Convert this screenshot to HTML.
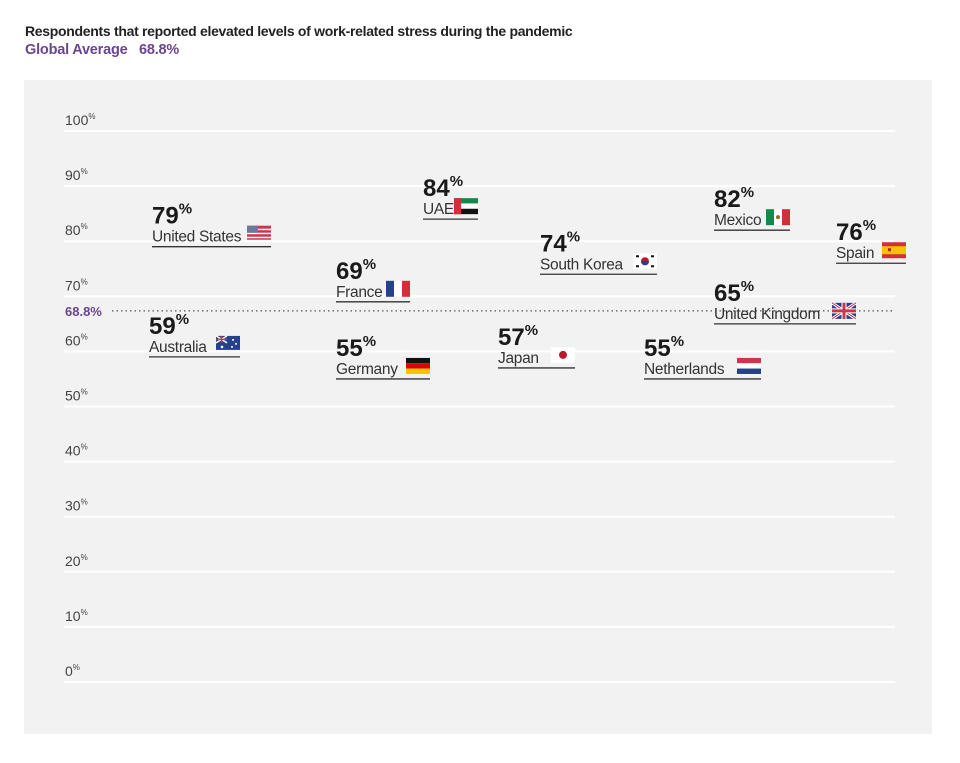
<!DOCTYPE html>
<html><head><meta charset="utf-8">
<style>
body{margin:0;background:#fff;font-family:"Liberation Sans",sans-serif;}
#wrap{position:relative;width:960px;height:763px;overflow:hidden;}
.t1{position:absolute;left:25px;top:23px;font-size:14px;color:#222;letter-spacing:-0.3px;font-weight:bold;white-space:nowrap}
.t2{position:absolute;left:25px;top:42px;font-size:14.5px;color:#6b4590;font-weight:bold;letter-spacing:-0.2px;white-space:nowrap}
svg{position:absolute;left:0;top:0}
</style></head><body>
<div id="wrap">
<div class="t1">Respondents that reported elevated levels of work-related stress during the pandemic</div>
<div class="t2">Global Average &nbsp; 68.8%</div>
<svg id="chart" width="960" height="763"></svg>
</div>
<script>
const countries=["United States","Australia","France","Germany","UAE","Japan","South Korea","Netherlands","Mexico","United Kingdom","Spain"];
const values=[79,59,69,55,84,57,74,55,82,65,76];
const ticks=[0,10,20,30,40,50,60,70,80,90,100];
const globalAverage=68.8;
// layout (not data)
const labelLeft=[152,149,336,336,423,498,540,644,714,714,836];
const labelWidth=[119,91,74,94,55,77,117,117,76,142,70];
const NS="http://www.w3.org/2000/svg";
const svg=document.getElementById('chart');
function y(v){return 682-v*5.51;}
function mk(tag,attrs,parent){const e=document.createElementNS(NS,tag);for(const k in attrs)e.setAttribute(k,attrs[k]);(parent||svg).appendChild(e);return e;}
const bg=mk('rect',{x:24,y:80,width:908,height:654,fill:'#f2f2f2'});


ticks.forEach(t=>{
  const l=mk('line',{x1:64,x2:895,y1:y(t),y2:y(t),stroke:'#fff','stroke-width':2});
  
  
  const tx=mk('text',{x:65,y:y(t)-6,'font-size':14,fill:'#444'});
  
  
  tx.innerHTML=t+'<tspan font-size="8" dy="-6">%</tspan>';
});
const ay=y(globalAverage)+8;
const al=mk('line',{x1:112,x2:895,y1:ay,y2:ay,stroke:'#555','stroke-width':1.2,'stroke-dasharray':'1.5 3'});


const at=mk('text',{x:65,y:ay+5,'font-size':13,'font-weight':'bold',fill:'#6b4590'});


at.textContent=globalAverage+'%';
function flag(name,g){
  const f={
   "United States":'<rect width="24" height="14" fill="#c8374a"/><rect y="3" width="24" height="1.5" fill="#fff"/><rect y="7" width="24" height="1.5" fill="#fff"/><rect y="11" width="24" height="1.5" fill="#fff"/><rect width="11" height="7" fill="#6a7a9c"/>',
   "Australia":'<rect width="24" height="14" fill="#24408e"/><path d="M0 0L11 7M11 0L0 7" stroke="#fff" stroke-width="1.5"/><path d="M5.5 0V7M0 3.5H11" stroke="#c8374a" stroke-width="1.5"/><circle cx="17" cy="4" r="1" fill="#fff"/><circle cx="20" cy="8" r="1" fill="#fff"/><circle cx="16" cy="11" r="1" fill="#fff"/><circle cx="6" cy="11" r="1.3" fill="#fff"/>',
   "France":'<rect width="8" height="16" fill="#24408e"/><rect x="8" width="8" height="16" fill="#fff"/><rect x="16" width="8" height="16" fill="#d22f3a"/>',
   "Germany":'<rect width="24" height="5.3" fill="#111"/><rect y="5.3" width="24" height="5.3" fill="#d00"/><rect y="10.6" width="24" height="5.4" fill="#f5c400"/>',
   "UAE":'<rect width="24" height="5.3" fill="#138a4b"/><rect y="5.3" width="24" height="5.3" fill="#fff"/><rect y="10.6" width="24" height="5.4" fill="#111"/><rect width="7" height="16" fill="#d22f3a"/>',
   "Japan":'<rect width="24" height="16" fill="#fff"/><circle cx="12" cy="8" r="4" fill="#b81c2c"/>',
   "South Korea":'<rect width="24" height="16" fill="#fff"/><circle cx="12" cy="8" r="4" fill="#b81c2c"/><path d="M8 8a4 4 0 0 0 8 0z" fill="#24408e"/><rect x="3" y="2" width="3" height="2" fill="#111"/><rect x="18" y="2" width="3" height="2" fill="#111"/><rect x="3" y="12" width="3" height="2" fill="#111"/><rect x="18" y="12" width="3" height="2" fill="#111"/>',
   "Netherlands":'<rect width="24" height="5.3" fill="#c8374a"/><rect y="5.3" width="24" height="5.3" fill="#fff"/><rect y="10.6" width="24" height="5.4" fill="#24408e"/>',
   "Mexico":'<rect width="8" height="16" fill="#138a4b"/><rect x="8" width="8" height="16" fill="#fff"/><rect x="16" width="8" height="16" fill="#d22f3a"/><circle cx="12" cy="8" r="2" fill="#8a6a30"/>',
   "United Kingdom":'<rect width="24" height="16" fill="#24408e"/><path d="M0 0L24 16M24 0L0 16" stroke="#fff" stroke-width="3"/><path d="M0 0L24 16M24 0L0 16" stroke="#c8374a" stroke-width="1"/><path d="M12 0V16M0 8H24" stroke="#fff" stroke-width="5"/><path d="M12 0V16M0 8H24" stroke="#c8374a" stroke-width="3"/>',
   "Spain":'<rect width="24" height="16" fill="#d22f3a"/><rect y="4" width="24" height="8" fill="#f5c400"/><rect x="6" y="6" width="3" height="3" fill="#b81c2c"/>'
  };
  g.innerHTML+=f[name]||'';
}
countries.forEach((c,i)=>{
  const yy=y(values[i]);const x=labelLeft[i];
  const g=mk('g',{});
  
  
  const u=mk('line',{x1:x,x2:x+labelWidth[i],y1:yy,y2:yy,stroke:'#333','stroke-width':1.3},g);
  
  
  const nm=mk('text',{x:x,y:yy-5,'font-size':15.5,fill:'#333','letter-spacing':'-0.3'},g);
  
  
  nm.textContent=c;
  const vt=mk('text',{x:x,y:yy-23,'font-size':24,'font-weight':'bold',fill:'#1a1a1a'},g);
  
  
  vt.innerHTML=values[i]+'<tspan font-size="15" dy="-10">%</tspan>';
  const fg=mk('g',{transform:'translate('+(x+labelWidth[i]-24)+','+(yy-21)+')'},g);
  
  
  flag(c,fg);
});
</script>
</body></html>
